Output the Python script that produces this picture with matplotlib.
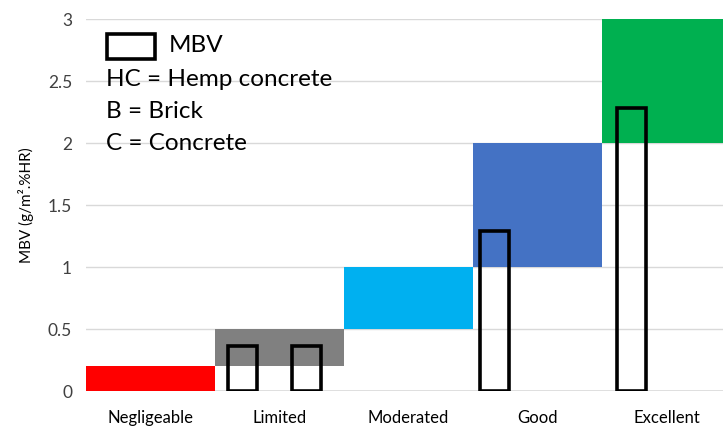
import matplotlib
matplotlib.use("Agg")
import matplotlib.pyplot as plt
from matplotlib.patches import Rectangle

categories = ["Negligeable", "Limited", "Moderated", "Good", "Excellent"]
band_low = [0.0, 0.2, 0.5, 1.0, 2.0]
band_high = [0.2, 0.5, 1.0, 2.0, 3.0]
band_colors = ["#ff0000", "#808080", "#00b0f0", "#4472c4", "#00b050"]

# MBV outline bars: position (in category units), value
mbv_pos = [1.21, 1.71, 3.17, 4.23]
mbv_val = [0.36, 0.36, 1.29, 2.28]
mbv_width = 0.225

yticks = [0, 0.5, 1, 1.5, 2, 2.5, 3]
ytick_labels = ["0", "0.5", "1", "1.5", "2", "2.5", "3"]

fig = plt.figure(figsize=(7.23, 4.26), dpi=100)
W, H = 723, 426
x0, x1 = 86, 731
y0, y1 = 391, 19
ax = fig.add_axes([x0 / W, 1 - y0 / H, (x1 - x0) / W, (y0 - y1) / H])
ax.set_xlim(0, 5)
ax.set_ylim(0, 3)

font = "Lato"

for y in yticks[1:]:
    ax.axhline(y, color="#d9d9d9", lw=1.0, zorder=0)
ax.axhline(0, color="#d9d9d9", lw=1.2, zorder=0)

for i, (lo, hi, c) in enumerate(zip(band_low, band_high, band_colors)):
    ax.bar(i + 0.5, hi - lo, bottom=lo, width=1.0, color=c, zorder=1, linewidth=0)

ax.bar(mbv_pos, mbv_val, width=mbv_width, facecolor="none", edgecolor="black",
       linewidth=2.6, zorder=3)

for s in ax.spines.values():
    s.set_visible(False)

ax.set_xticks([i + 0.5 for i in range(len(categories))])
ax.set_xticklabels(categories, fontsize=12, fontfamily=font, color="#000000")
ax.tick_params(axis="x", length=0, pad=14)
ax.set_yticks(yticks)
ax.set_yticklabels(ytick_labels, fontsize=12.5, fontfamily=font, color="#404040")
ax.tick_params(axis="y", length=0, pad=10)
ax.set_ylabel("MBV (g/m².%HR)", fontsize=11, fontfamily=font, labelpad=10)

# legend-like annotation
ax.add_patch(Rectangle((107, H - 59), 48, 25, transform=None, facecolor="white",
                       edgecolor="black", lw=2.6, zorder=4))
fs = 17.5
fig.text(169 / W, 1 - 46 / H, "MBV", fontsize=fs, fontfamily=font, va="center", ha="left")
fig.text(106 / W, 1 - 79 / H, "HC = Hemp concrete", fontsize=fs, fontfamily=font, va="center", ha="left")
fig.text(106 / W, 1 - 112 / H, "B = Brick", fontsize=fs, fontfamily=font, va="center", ha="left")
fig.text(106 / W, 1 - 144 / H, "C = Concrete", fontsize=fs, fontfamily=font, va="center", ha="left")

fig.savefig("out.png", dpi=100)
